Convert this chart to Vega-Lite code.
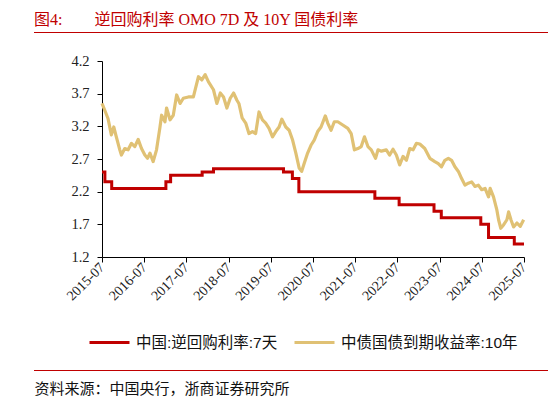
{
  "$schema": "https://vega.github.io/schema/vega-lite/v6.json",
  "width": 422,
  "height": 196,
  "autosize": {"type": "none"},
  "padding": {"left": 102, "top": 61, "right": 24, "bottom": 145},
  "background": "white",
  "config": {
    "view": {"stroke": null},
    "axis": {"domainColor": "#000", "tickColor": "#000", "labelFont": "Liberation Serif", "labelFontSize": 14.5, "labelColor": "#222", "grid": false, "domainWidth": 1, "tickWidth": 1}
  },
  "title": {
    "text": "图4:\u3000\u3000逆回购利率 OMO 7D 及 10Y 国债利率",
    "anchor": "start",
    "frame": "group",
    "dx": -68,
    "dy": 19,
    "offset": 7,
    "baseline": "bottom",
    "font": "Liberation Serif, Noto Sans CJK SC",
    "fontSize": 16,
    "fontWeight": "normal",
    "color": "#C00000"
  },
  "datasets": {
    "omo": [
      {"d": "2015-07-31", "v": 2.5},
      {"d": "2015-08-25", "v": 2.35},
      {"d": "2015-10-23", "v": 2.25},
      {"d": "2017-02-03", "v": 2.35},
      {"d": "2017-03-16", "v": 2.45},
      {"d": "2017-12-14", "v": 2.5},
      {"d": "2018-03-22", "v": 2.55},
      {"d": "2019-11-18", "v": 2.5},
      {"d": "2020-02-03", "v": 2.4},
      {"d": "2020-03-30", "v": 2.2},
      {"d": "2022-01-17", "v": 2.1},
      {"d": "2022-08-15", "v": 2.0},
      {"d": "2023-06-13", "v": 1.9},
      {"d": "2023-08-15", "v": 1.8},
      {"d": "2024-07-22", "v": 1.7},
      {"d": "2024-09-27", "v": 1.5},
      {"d": "2025-05-08", "v": 1.4},
      {"d": "2025-07-31", "v": 1.4}
    ],
    "bond": [
      {"d": "2015-07-31", "v": 3.55},
      {"d": "2015-08-23", "v": 3.45},
      {"d": "2015-09-21", "v": 3.32},
      {"d": "2015-10-20", "v": 3.07},
      {"d": "2015-11-10", "v": 3.19},
      {"d": "2015-12-02", "v": 3.04},
      {"d": "2016-01-01", "v": 2.84},
      {"d": "2016-01-15", "v": 2.76},
      {"d": "2016-02-13", "v": 2.86},
      {"d": "2016-03-13", "v": 2.84},
      {"d": "2016-04-11", "v": 2.94},
      {"d": "2016-05-10", "v": 2.89},
      {"d": "2016-06-08", "v": 3.0},
      {"d": "2016-07-07", "v": 2.86},
      {"d": "2016-08-05", "v": 2.76},
      {"d": "2016-08-28", "v": 2.71},
      {"d": "2016-09-18", "v": 2.79},
      {"d": "2016-10-16", "v": 2.66},
      {"d": "2016-11-14", "v": 2.84},
      {"d": "2016-12-14", "v": 3.19},
      {"d": "2016-12-28", "v": 3.37},
      {"d": "2017-01-26", "v": 3.27},
      {"d": "2017-02-09", "v": 3.48},
      {"d": "2017-03-11", "v": 3.3},
      {"d": "2017-04-08", "v": 3.37},
      {"d": "2017-05-07", "v": 3.68},
      {"d": "2017-06-06", "v": 3.55},
      {"d": "2017-07-04", "v": 3.63},
      {"d": "2017-08-17", "v": 3.65},
      {"d": "2017-09-29", "v": 3.65},
      {"d": "2017-11-12", "v": 3.96},
      {"d": "2017-12-11", "v": 3.91},
      {"d": "2018-01-09", "v": 3.99},
      {"d": "2018-02-07", "v": 3.88},
      {"d": "2018-03-22", "v": 3.76},
      {"d": "2018-04-20", "v": 3.55},
      {"d": "2018-05-20", "v": 3.71},
      {"d": "2018-06-17", "v": 3.65},
      {"d": "2018-07-16", "v": 3.48},
      {"d": "2018-08-14", "v": 3.63},
      {"d": "2018-09-12", "v": 3.71},
      {"d": "2018-10-11", "v": 3.6},
      {"d": "2018-10-28", "v": 3.55},
      {"d": "2018-11-25", "v": 3.33},
      {"d": "2018-12-26", "v": 3.25},
      {"d": "2019-01-23", "v": 3.09},
      {"d": "2019-02-22", "v": 3.12},
      {"d": "2019-03-22", "v": 3.09},
      {"d": "2019-04-20", "v": 3.42},
      {"d": "2019-05-20", "v": 3.3},
      {"d": "2019-06-17", "v": 3.25},
      {"d": "2019-07-16", "v": 3.17},
      {"d": "2019-08-15", "v": 3.04},
      {"d": "2019-09-12", "v": 3.12},
      {"d": "2019-10-11", "v": 3.19},
      {"d": "2019-11-04", "v": 3.31},
      {"d": "2019-12-08", "v": 3.19},
      {"d": "2020-01-06", "v": 3.14},
      {"d": "2020-02-05", "v": 2.99},
      {"d": "2020-03-04", "v": 2.79},
      {"d": "2020-04-02", "v": 2.56},
      {"d": "2020-04-23", "v": 2.51},
      {"d": "2020-05-15", "v": 2.63},
      {"d": "2020-06-14", "v": 2.79},
      {"d": "2020-07-13", "v": 2.91},
      {"d": "2020-08-10", "v": 2.99},
      {"d": "2020-09-09", "v": 3.12},
      {"d": "2020-10-08", "v": 3.19},
      {"d": "2020-11-14", "v": 3.36},
      {"d": "2020-12-05", "v": 3.25},
      {"d": "2021-01-03", "v": 3.14},
      {"d": "2021-01-31", "v": 3.27},
      {"d": "2021-03-02", "v": 3.27},
      {"d": "2021-04-14", "v": 3.22},
      {"d": "2021-05-28", "v": 3.17},
      {"d": "2021-06-26", "v": 3.09},
      {"d": "2021-07-24", "v": 2.84},
      {"d": "2021-08-23", "v": 2.86},
      {"d": "2021-09-21", "v": 2.89},
      {"d": "2021-10-19", "v": 3.04},
      {"d": "2021-11-18", "v": 2.89},
      {"d": "2021-12-17", "v": 2.84},
      {"d": "2022-01-23", "v": 2.71},
      {"d": "2022-02-13", "v": 2.84},
      {"d": "2022-03-14", "v": 2.82},
      {"d": "2022-04-26", "v": 2.84},
      {"d": "2022-05-25", "v": 2.76},
      {"d": "2022-06-23", "v": 2.85},
      {"d": "2022-07-22", "v": 2.76},
      {"d": "2022-08-20", "v": 2.61},
      {"d": "2022-09-18", "v": 2.74},
      {"d": "2022-10-17", "v": 2.68},
      {"d": "2022-11-15", "v": 2.86},
      {"d": "2022-12-14", "v": 2.84},
      {"d": "2023-01-12", "v": 2.94},
      {"d": "2023-02-10", "v": 2.93},
      {"d": "2023-03-25", "v": 2.86},
      {"d": "2023-05-08", "v": 2.71},
      {"d": "2023-06-20", "v": 2.66},
      {"d": "2023-07-20", "v": 2.63},
      {"d": "2023-08-17", "v": 2.58},
      {"d": "2023-09-15", "v": 2.68},
      {"d": "2023-10-15", "v": 2.71},
      {"d": "2023-11-12", "v": 2.68},
      {"d": "2023-12-11", "v": 2.58},
      {"d": "2024-01-10", "v": 2.51},
      {"d": "2024-02-07", "v": 2.4},
      {"d": "2024-03-07", "v": 2.3},
      {"d": "2024-04-05", "v": 2.33},
      {"d": "2024-05-04", "v": 2.35},
      {"d": "2024-06-02", "v": 2.28},
      {"d": "2024-07-01", "v": 2.3},
      {"d": "2024-07-30", "v": 2.23},
      {"d": "2024-08-28", "v": 2.25},
      {"d": "2024-09-27", "v": 2.12},
      {"d": "2024-10-11", "v": 2.25},
      {"d": "2024-11-09", "v": 2.12},
      {"d": "2024-12-08", "v": 1.92},
      {"d": "2024-12-23", "v": 1.77},
      {"d": "2025-01-11", "v": 1.64},
      {"d": "2025-02-04", "v": 1.69},
      {"d": "2025-03-05", "v": 1.77},
      {"d": "2025-03-20", "v": 1.89},
      {"d": "2025-04-09", "v": 1.77},
      {"d": "2025-05-02", "v": 1.66},
      {"d": "2025-05-31", "v": 1.72},
      {"d": "2025-06-29", "v": 1.67},
      {"d": "2025-07-28", "v": 1.77}
    ]
  },
  "encoding": {
    "x": {
      "field": "d",
      "type": "temporal",
      "scale": {"type": "utc", "domain": [{"year": 2015, "month": 7, "date": 31, "utc": true}, {"year": 2025, "month": 7, "date": 31, "utc": true}]},
      "axis": {
        "values": [
          {"year": 2015, "month": 7, "date": 31, "utc": true},
          {"year": 2016, "month": 7, "date": 31, "utc": true},
          {"year": 2017, "month": 7, "date": 31, "utc": true},
          {"year": 2018, "month": 7, "date": 31, "utc": true},
          {"year": 2019, "month": 7, "date": 31, "utc": true},
          {"year": 2020, "month": 7, "date": 31, "utc": true},
          {"year": 2021, "month": 7, "date": 31, "utc": true},
          {"year": 2022, "month": 7, "date": 31, "utc": true},
          {"year": 2023, "month": 7, "date": 31, "utc": true},
          {"year": 2024, "month": 7, "date": 31, "utc": true},
          {"year": 2025, "month": 7, "date": 31, "utc": true}
        ],
        "format": "%Y-%m",
        "labelAngle": -45,
        "labelAlign": "right",
        "labelBaseline": "middle",
        "labelPadding": 3,
        "labelFontSize": 14,
        "tickSize": 5,
        "labelFlush": false,
        "labelOverlap": false,
        "title": "资料来源：中国央行，浙商证券研究所",
        "titleX": -68,
        "titleY": 131,
        "titleAlign": "left",
        "titleBaseline": "middle",
        "titleFont": "Noto Sans CJK SC",
        "titleFontSize": 15,
        "titleFontWeight": "normal",
        "titleColor": "#111"
      }
    },
    "y": {
      "field": "v",
      "type": "quantitative",
      "scale": {"domain": [1.2, 4.2], "nice": false, "zero": false},
      "axis": {"values": [1.2, 1.7, 2.2, 2.7, 3.2, 3.7, 4.2], "format": ".1f", "tickSize": 5, "labelPadding": 8, "title": null}
    }
  },
  "layer": [
    {
      "data": {"name": "bond"},
      "mark": {"type": "line", "strokeWidth": 3.2, "strokeJoin": "round"},
      "encoding": {
        "color": {
          "datum": "中债国债到期收益率:10年",
          "scale": {"domain": ["中国:逆回购利率:7天", "中债国债到期收益率:10年"], "range": ["#C00000", "#E0C174"]},
          "legend": {
            "orient": "none",
            "legendX": -14,
            "legendY": 260,
            "direction": "horizontal",
            "title": null,
            "symbolType": "stroke",
            "symbolSize": 1600,
            "symbolStrokeWidth": 3,
            "labelFont": "Liberation Sans, Noto Sans CJK SC",
            "labelFontSize": 15.5,
            "labelColor": "#111",
            "labelOffset": 5,
            "columnPadding": 10,
            "labelLimit": 300
          }
        }
      }
    },
    {
      "data": {"name": "omo"},
      "mark": {"type": "line", "interpolate": "step-after", "strokeWidth": 3},
      "encoding": {
        "color": {"datum": "中国:逆回购利率:7天"}
      }
    },
    {
      "data": {"values": [{}]},
      "mark": {"type": "rule", "color": "#C00000", "strokeWidth": 1.2},
      "encoding": {"x": {"value": -68}, "x2": {"value": 446}, "y": {"value": -28.5}}
    },
    {
      "data": {"values": [{}]},
      "mark": {"type": "rule", "color": "#C00000", "strokeWidth": 1.2},
      "encoding": {"x": {"value": -68}, "x2": {"value": 446}, "y": {"value": 309.5}}
    }
  ]
}
